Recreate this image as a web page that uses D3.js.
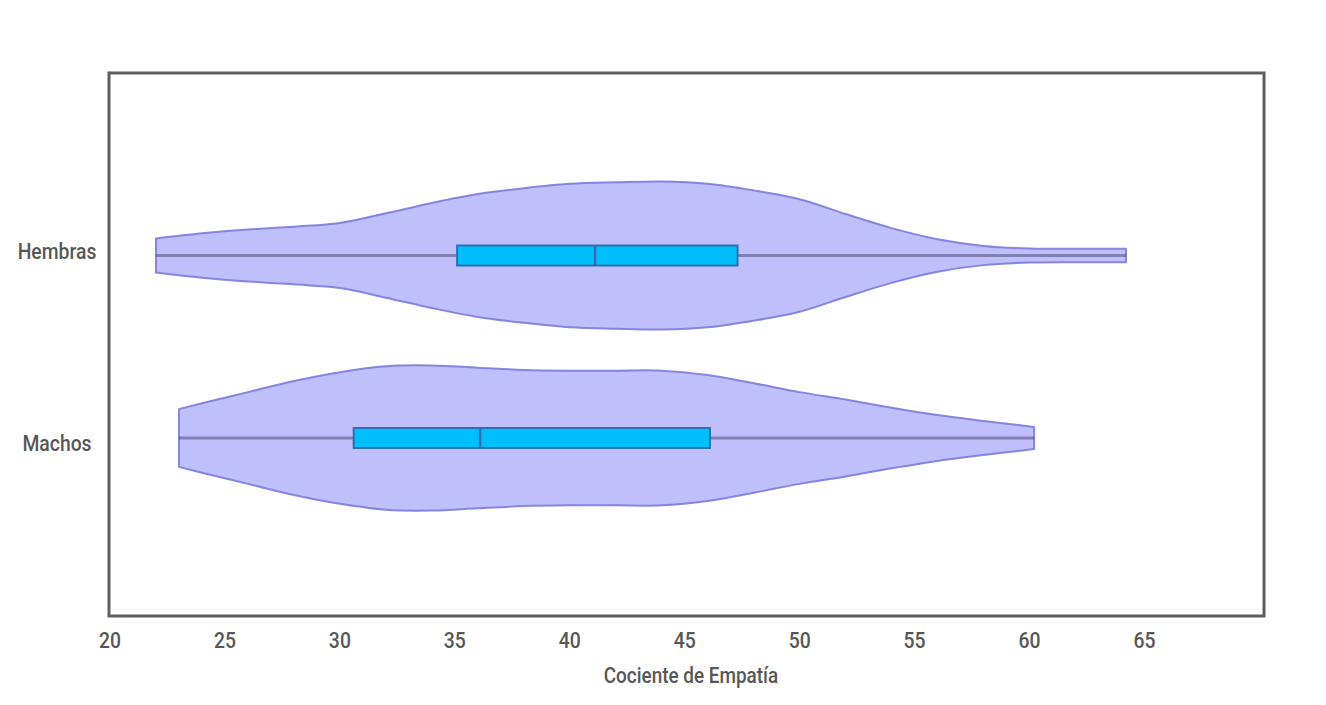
<!DOCTYPE html>
<html>
<head>
<meta charset="utf-8">
<script src="https://cdn.jsdelivr.net/npm/d3@7"></script>
<style>
  body { margin: 0; background: #fff; }
  text { font-family: Roboto, "Noto Sans", sans-serif; font-weight: 500; fill: #575757; }
</style>
</head>
<body>
<div id="chart"></div>
<script>
const categories = ["Hembras", "Machos"];
const xTicks = [20, 25, 30, 35, 40, 45, 50, 55, 60, 65];

// box plot stats, per category
const whiskerLow = [22.0, 23.0];
const q1 = [35.1, 30.6];
const medians = [41.1, 36.1];
const q3 = [47.3, 46.1];
const whiskerHigh = [64.2, 60.2];

// violin density (relative, max = 100)
const hembrasGrid = [22, 24, 26, 28, 30, 32, 34, 36, 38, 40, 42, 44, 46, 48, 50, 52, 54, 56, 58, 60, 62, 64.2];
const hembrasDensity = [23, 30, 35, 39, 44, 57, 71, 83, 91, 97, 99, 100, 97, 88, 76, 56, 37, 22, 13, 9.5, 9, 9];
const machosGrid = [23, 24, 26, 28, 30, 32, 34, 36, 38, 40, 42, 44, 46, 48, 50, 52, 54, 56, 58, 60.2];
const machosDensity = [39, 47, 62, 77, 89, 97, 98, 95, 92, 91, 91, 91, 85, 74, 62, 52, 41, 31, 23, 15];

const densities = [
  hembrasGrid.map((v, i) => ({ v, d: hembrasDensity[i] })),
  machosGrid.map((v, i) => ({ v, d: machosDensity[i] }))
];

const width = 1326;
const height = 705;
const margin = { top: 73, right: 62, bottom: 89, left: 110 };
const chartWidth = width - margin.left - margin.right;
const chartHeight = height - margin.top - margin.bottom;

const svg = d3.select("#chart")
  .append("svg")
  .attr("width", width)
  .attr("height", height);

const g = svg.append("g")
  .attr("transform", `translate(${margin.left},${margin.top})`);

const x = d3.scaleLinear()
  .domain([20, 70.2])
  .range([0, chartWidth]);

const y = d3.scalePoint()
  .domain(categories)
  .range([182.5, 365]);

// category labels sit a bit apart from the violins
const yLabel = d3.scalePoint()
  .domain(categories)
  .range([178, 370]);

const w = d3.scaleLinear()
  .domain([0, 100])
  .range([0, 74]);

const boxH = 20;
const squeeze = 0.88; // condensed look of the labels

// violins
categories.forEach((c, i) => {
  const area = d3.area()
    .x(d => x(d.v))
    .y0(d => y(c) - w(d.d))
    .y1(d => y(c) + w(d.d))
    .curve(d3.curveCatmullRom.alpha(0.5));

  g.append("path")
    .datum(densities[i])
    .attr("fill", "#bfbffb")
    .attr("stroke", "#7b7bde")
    .attr("stroke-opacity", 0.9)
    .attr("stroke-width", 2)
    .attr("stroke-linejoin", "round")
    .attr("d", area);
});

// whiskers
g.selectAll(".whisker")
  .data(categories)
  .enter().append("line")
  .attr("class", "whisker")
  .attr("x1", (d, i) => x(whiskerLow[i]))
  .attr("x2", (d, i) => x(whiskerHigh[i]))
  .attr("y1", d => y(d))
  .attr("y2", d => y(d))
  .attr("stroke", "#33335a")
  .attr("stroke-opacity", 0.45)
  .attr("stroke-width", 3);

// boxes
g.selectAll(".box")
  .data(categories)
  .enter().append("rect")
  .attr("class", "box")
  .attr("x", (d, i) => x(q1[i]))
  .attr("width", (d, i) => x(q3[i]) - x(q1[i]))
  .attr("y", d => y(d) - boxH / 2)
  .attr("height", boxH)
  .attr("fill", "#00bfff")
  .attr("stroke", "#2f6fae")
  .attr("stroke-width", 2);

g.selectAll(".median")
  .data(categories)
  .enter().append("line")
  .attr("class", "median")
  .attr("x1", (d, i) => x(medians[i]))
  .attr("x2", (d, i) => x(medians[i]))
  .attr("y1", d => y(d) - boxH / 2)
  .attr("y2", d => y(d) + boxH / 2)
  .attr("stroke", "#2f6fae")
  .attr("stroke-width", 2.5);

// frame
g.append("rect")
  .attr("x", -1)
  .attr("y", 0)
  .attr("width", chartWidth + 1)
  .attr("height", chartHeight)
  .attr("fill", "none")
  .attr("stroke", "#5f5f5f")
  .attr("stroke-width", 3);

// x-axis labels
g.selectAll(".xtick")
  .data(xTicks)
  .enter().append("text")
  .attr("class", "xtick")
  .attr("transform", d => `translate(${x(d)},${chartHeight + 32}) scale(${squeeze},1)`)
  .attr("text-anchor", "middle")
  .style("font-size", "22px")
  .text(d => d);

// category labels
g.selectAll(".ylab")
  .data(categories)
  .enter().append("text")
  .attr("class", "ylab")
  .attr("transform", d => `translate(-53,${yLabel(d)}) scale(${squeeze},1)`)
  .attr("dy", "0.35em")
  .attr("text-anchor", "middle")
  .style("font-size", "22px")
  .text(d => d);

// axis title
g.append("text")
  .attr("transform", `translate(${chartWidth / 2 + 4},${chartHeight + 67}) scale(${squeeze},1)`)
  .attr("text-anchor", "middle")
  .style("font-size", "21.5px")
  .text("Cociente de Empatía");
</script>
</body>
</html>
